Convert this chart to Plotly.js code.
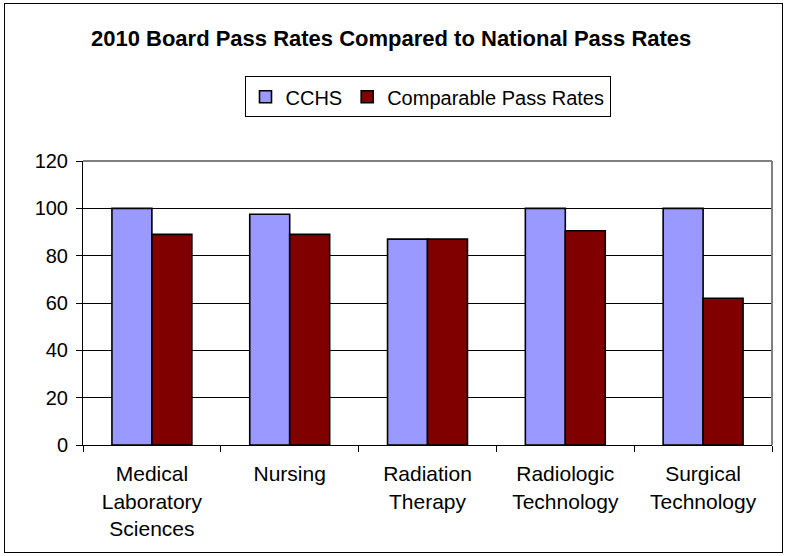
<!DOCTYPE html>
<html>
<head>
<meta charset="utf-8">
<script src="https://cdn.plot.ly/plotly-3.0.1.min.js"></script>
<style>
html,body{margin:0;padding:0;background:#fff;}
#wrap{position:relative;width:787px;height:556px;}
#chart{width:787px;height:556px;}
#frame{position:absolute;left:4px;top:3px;width:777px;height:548px;border:1px solid #000;pointer-events:none;}
</style>
</head>
<body>
<div id="wrap"><div id="chart"></div><div id="frame"></div></div>
<script>
var categories = ["Medical<br>Laboratory<br>Sciences", "Nursing", "Radiation<br>Therapy", "Radiologic<br>Technology", "Surgical<br>Technology"];
var cchs = [100, 97.5, 87, 100, 100];
var comparable = [89, 89, 87, 90.5, 62];
var yTicks = [0, 20, 40, 60, 80, 100, 120];

var font = "Liberation Sans, Arial, sans-serif";
var traces = [
  {type: "bar", name: "CCHS", x: categories, y: cchs,
   marker: {color: "#9999FF", line: {color: "#000", width: 1.6}}},
  {type: "bar", name: "Comparable Pass Rates", x: categories, y: comparable,
   marker: {color: "#800000", line: {color: "#000", width: 1.6}}}
];
var layout = {
  width: 787, height: 556,
  margin: {l: 83, r: 15, t: 161, b: 111},
  paper_bgcolor: "#fff", plot_bgcolor: "#fff",
  font: {family: font, size: 20, color: "#000"},
  title: {text: "<b>2010 Board Pass Rates Compared to National Pass Rates</b>",
          font: {family: font, size: 22, color: "#000"}, x: 0.497, xanchor: "center", y: 0.932, yanchor: "middle"},
  barmode: "group", bargap: 0.42, bargroupgap: 0,
  showlegend: true,
  legend: {orientation: "h", x: 0.5, xanchor: "center", y: 1.226, yanchor: "middle",
           bordercolor: "#000", borderwidth: 1, font: {family: font, size: 20},
           itemwidth: 30, tracegroupgap: 0},
  xaxis: {type: "category", tickson: "boundaries", ticks: "outside", ticklen: 6, tickcolor: "#000",
          showline: true, linecolor: "#000", linewidth: 1, mirror: false, showgrid: false,
          tickfont: {family: font, size: 21}, ticklabelstandoff: 10, fixedrange: true},
  yaxis: {range: [0, 120], tickvals: yTicks, ticktext: yTicks.map(String), ticks: "outside", ticklen: 6,
          tickcolor: "#000", showline: true, linecolor: "#000", linewidth: 1,
          showgrid: true, gridcolor: "#000", gridwidth: 1, zeroline: false,
          tickfont: {family: font, size: 20}, ticklabelstandoff: 4, fixedrange: true},
  shapes: [
    {type: "line", xref: "paper", yref: "paper", x0: 0, x1: 1, y0: 1, y1: 1, line: {color: "#808080", width: 2}},
    {type: "line", xref: "paper", yref: "paper", x0: 1, x1: 1, y0: 0, y1: 1, line: {color: "#808080", width: 2}}
  ]
};
Plotly.newPlot("chart", traces, layout, {displayModeBar: false, staticPlot: true});
</script>
</body>
</html>
